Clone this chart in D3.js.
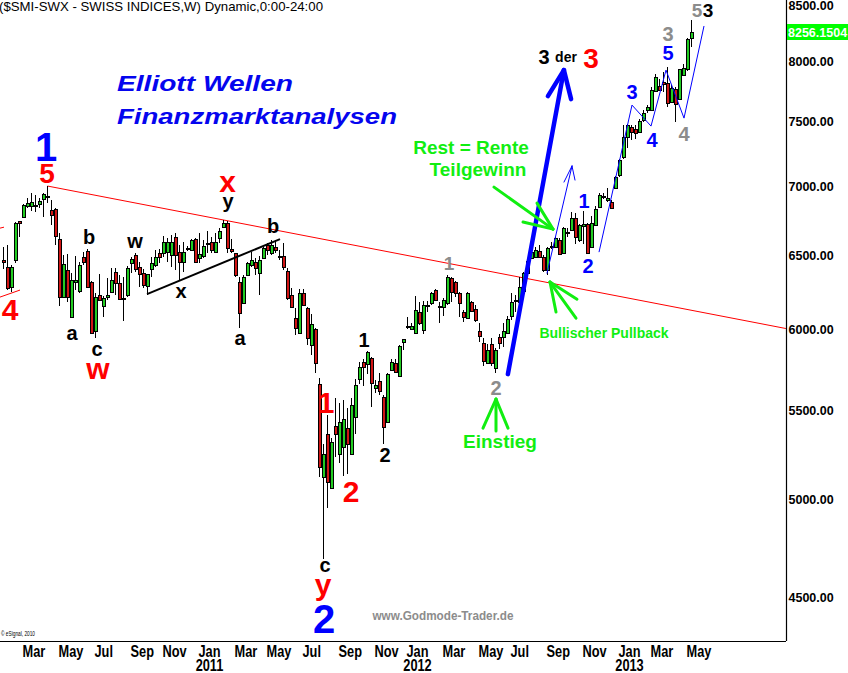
<!DOCTYPE html>
<html><head><meta charset="utf-8">
<script src="https://cdnjs.cloudflare.com/ajax/libs/d3/7.8.5/d3.min.js"></script>
<style>
body{margin:0;background:#fff}
svg{display:block}
text{font-family:"Liberation Sans",Arial,Helvetica,sans-serif}
</style>
</head><body>
<svg id="chart" width="848" height="673"></svg>
<script>
// ---------------- DATA ----------------
const firstWeek = "2010-01-25"; // weekly bars, Monday dated
const open = [6465,6417,6281,6465,6742,6771,6851,6851,6858,6866, 6903,6925,6822,6829,6613,6214,6396,6082,6315,6254,
 6486,6528,6315,5991,6227,6154,6214,6247,6383,6308, 6200,6227,6444,6500,6417,6376,6288,6403,6431,6514,
 6514,6521,6500,6627,6521,6451,6542,6535,6613,6479, 6493,6584,6592,6521,6620,6698,6727,6542,6514,6315,
 6174,6362,6431,6451,6376,6479,6570,6514,6556,6493, 6493,6390,6227,6075,5978,6241,6141,5902,6004,5660,
 5122,5363,5062,5411,5250,5290,5399,5250,5463,5690, 5795,5783,5820,5636,5678,5582,5434,5746,5789,5709,
 5921,6017,6004,5978,6115,5998,6154,6174,6261,6154, 6148,6174,6342,6315,6241,6115,6075,6181,6134,5991,
 5915,5789,5908,5758,5953,5953,5978,6088,6194,6181, 6254,6376,6479,6486,6528,6486,6396,6556,6556,6606,
 6514,6663,6677,6763,6606,6705,6720,6556,6713,6844, 6918,6895,6880,6985,7083,7221,7377,7457,7441,7417,
 7513,7594,7594,7751,7793,7826,7818,7660,7768,7684, 7885,7936,8204];
const high = [6556,6570,6431,6734,6742,6866,6910,6947,6933,6910, 6947,7000,6895,6836,6655,6500,6507,6376,6493,6451,
 6521,6542,6321,6241,6369,6221,6342,6410,6410,6362, 6349,6424,6486,6514,6451,6403,6369,6486,6535,6542,
 6634,6620,6641,6655,6570,6592,6563,6613,6620,6655, 6606,6670,6627,6655,6691,6749,6742,6613,6514,6349,
 6362,6451,6521,6479,6493,6556,6584,6606,6606,6535, 6584,6410,6274,6141,6268,6268,6148,6102,6011,5697,
 5307,5475,5341,5576,5546,5564,5516,5576,5690,5795, 5814,5864,5827,5684,5727,5594,5727,5814,5814,5902,
 5940,6082,6043,6221,6181,6187,6187,6247,6268,6181, 6207,6362,6349,6321,6247,6128,6247,6187,6161,6043,
 5946,5908,5946,5883,5972,6043,6088,6241,6227,6349, 6383,6472,6535,6556,6570,6500,6556,6592,6627,6620,
 6698,6691,6807,6800,6720,6815,6727,6778,6851,6947, 6947,6985,6895,7075,7205,7473,7481,7473,7473,7521,
 7594,7635,7784,7893,7851,7910,7953,7801,7784,7936, 7979,8204,8364];
const low = [6403,6261,6247,6444,6627,6763,6836,6815,6807,6836, 6771,6873,6713,6570,6154,6207,6181,6075,6261,6241,
 6431,6274,5972,5946,6187,6082,6194,6241,6227,6194, 6056,6214,6376,6383,6281,6274,6227,6349,6417,6444,
 6486,6451,6417,6396,6328,6383,6528,6528,6444,6444, 6479,6514,6514,6514,6584,6691,6514,6514,6349,6011,
 6167,6355,6417,6362,6227,6472,6500,6500,6514,6465, 6396,6194,6148,5966,5978,6154,5902,5839,5727,5122,
 4691,4955,5057,5234,5200,5128,5139,5245,5364,5660, 5648,5721,5522,5606,5594,5307,5428,5740,5727,5703,
 5870,6004,5998,5978,6030,5972,6115,6161,6187,6043, 6088,6161,6181,6214,6082,6049,6069,6115,6049,5921,
 5770,5789,5770,5727,5877,5889,5978,6062,6115,6174, 6247,6369,6472,6479,6479,6383,6362,6542,6549,6500,
 6507,6627,6670,6577,6592,6577,6514,6549,6705,6844, 6903,6880,6829,6977,7068,7205,7290,7354,7362,7409,
 7497,7570,7586,7743,7751,7743,7619,7652,7497,7676, 7876,7919,8125];
const close = [6451,6274,6417,6727,6727,6858,6873,6880,6855,6888, 6940,6918,6785,6634,6214,6438,6214,6328,6328,6431,
 6451,6281,5978,6214,6194,6207,6227,6328,6308,6200, 6207,6410,6472,6403,6369,6294,6369,6444,6486,6486,
 6592,6592,6592,6500,6451,6521,6549,6606,6451,6507, 6563,6581,6535,6592,6670,6727,6549,6528,6362,6108,
 6349,6444,6465,6410,6465,6549,6535,6570,6535,6486, 6417,6207,6148,6011,6241,6161,5946,6036,5789,5178,
 5250,5095,5318,5363,5434,5451,5307,5534,5654,5764, 5764,5858,5666,5654,5618,5405,5721,5795,5733,5896,
 5940,6023,6023,6128,6043,6161,6161,6241,6194,6151, 6194,6349,6247,6241,6174,6082,6241,6121,6062,5959,
 5801,5870,5789,5870,5915,5991,6069,6181,6190,6281, 6376,6458,6521,6535,6486,6396,6549,6563,6620,6507,
 6691,6659,6763,6627,6713,6720,6514,6727,6829,6933, 6922,6910,6836,7068,7198,7377,7473,7417,7409,7505,
 7570,7619,7759,7868,7759,7810,7652,7776,7644,7936, 7945,8195,8256.1504];
const lastPrice = 8256.1504;
const yTicks = [4500,5000,5500,6000,6500,7000,7500,8000,8500];
const monthTicks = ["2010-03","2010-05","2010-07","2010-09","2010-11","2011-01","2011-03","2011-05","2011-07",
 "2011-09","2011-11","2012-01","2012-03","2012-05","2012-07","2012-09","2012-11","2013-01","2013-03","2013-05"];
const yearTicks = ["2011-01","2012-01","2013-01"];

// annotations in data space: [week index, price]
const trendRed = [[11,7000],[195.6,6008]];
const redStubs = [[[-0.875,6214],[4.125,6261]],[[-0.875,6691],[0.125,6698]]];
const trendBlack = [[35.875,6234],[69.125,6613]];
const bigArrow = {from:[126.1,5721], to:[140.1,7927], barbs:[[136.1,7709],[141.9,7684]]};
const thinArrow = {from:[135.875,6376], to:[142.125,7152], barbs:[[140.125,7030],[142.875,7045]]};
const zigzag = [[148.875,6521],[157.125,7635],[161.875,7465],[165.625,7927],[170.125,7529],[175.125,8311]];
const greenArrows = [
 {from:[122.625,6992], to:[137.375,6684], barbs:[[133.375,6873],[129.875,6735]]},
 {from:[143.125,6075], to:[136.625,6315], barbs:[[138.125,6115],[143.375,6200]]},
 {from:[123.125,5382], to:[123.125,5570], barbs:[[119.875,5399],[126.125,5399]]}
];
const BLUE="#0000ff", RED="#ff0000", BLACK="#000000", GRAY="#8c8c8c", GREEN="#11ee11";
const waveLabels = [
 ["1",10.625,7190,BLUE,40],["5",10.875,7022,RED,28],["4",1.625,6062,RED,30],
 ["b",21.375,6577,BLACK,20],["a",17.125,5934,BLACK,20],["c",23.375,5832,BLACK,20],["w",23.625,5690,RED,30],
 ["w",32.875,6549,BLACK,20],["x",44.375,6207,BLACK,20],["y",56.125,6836,BLACK,20],["x",56.0,6955,RED,30],
 ["b",67.375,6655,BLACK,20],["a",59.125,5902,BLACK,20],["c",80.375,4625,BLACK,20],["y",79.875,4515,RED,30],
 ["2",80.125,4334,BLUE,40],["1",80.625,5487,RED,30],["2",86.875,4987,RED,30],
 ["1",90.125,5889,BLACK,20],["2",95.375,5206,BLACK,20],["1",111.375,6396,GRAY,19],["2",123.125,5593,GRAY,20],
 ["3",135.125,7979,BLACK,20],["der",140.625,7996,BLACK,14],["3",146.875,7945,RED,28],
 ["1",145.125,6836,BLUE,20],["2",146.125,6376,BLUE,20],["3",157.125,7684,BLUE,20],["4",162.125,7299,BLUE,20],
 ["5",166.125,8013,BLUE,20],["3",166.125,8175,GRAY,20],["4",170.125,7346,GRAY,20],
 ["5",173.375,8392,GRAY,19],["3",176.125,8392,BLACK,19]
];

// ---------------- LAYOUT ----------------
const W = 848, H = 673, plotR = 786, plotB = 641;
const WEEK = 7*864e5;
const t0 = d3.timeParse("%Y-%m-%d")(firstWeek);
const dates = open.map((_, i) => new Date(+t0 + i*WEEK));
const x = d3.scaleTime().domain([new Date(+t0 - 0.875*WEEK), new Date(+t0 + 195.625*WEEK)]).range([0, plotR]);
const y = d3.scaleLog().domain([4297, 8546]).range([plotB, 0]);
const kx = k => x(new Date(+t0 + k*WEEK));
const P = d => [kx(d[0]), y(d[1])];

const svg = d3.select("#chart");
svg.append("rect").attr("width", W).attr("height", H).attr("fill", "#fff");
const defs = svg.append("defs");
defs.append("clipPath").attr("id","plot").append("rect").attr("x",0).attr("y",0).attr("width",plotR).attr("height",plotB);
const plot = svg.append("g").attr("clip-path","url(#plot)");

// trend lines
const line = d3.line();
plot.append("path").attr("d", line(trendRed.map(P))).attr("stroke", RED).attr("stroke-width",1).attr("fill","none");
redStubs.forEach(s => plot.append("path").attr("d", line(s.map(P))).attr("stroke", RED).attr("stroke-width",1).attr("fill","none"));

// candles
const candles = plot.append("g");
dates.forEach((d, i) => {
  const cx = Math.round(x(d) - 0.5) + 0.5;
  const up = close[i] >= open[i];
  candles.append("line").attr("x1",cx).attr("x2",cx).attr("y1",y(high[i])).attr("y2",y(low[i]))
    .attr("stroke","#000").attr("stroke-width",1).attr("shape-rendering","crispEdges");
  const yo = y(open[i]), yc = y(close[i]);
  const top = Math.round(Math.min(yo,yc)), bot = Math.round(Math.max(yo,yc));
  candles.append("rect").attr("x",cx-1.5).attr("y",top).attr("width",4).attr("height",Math.max(bot-top,1)+1)
    .attr("fill","#000").attr("shape-rendering","crispEdges");
  if (bot - top >= 2) {
    candles.append("rect").attr("x",cx-0.5).attr("y",top+1).attr("width",2).attr("height",bot-top-1)
      .attr("fill", up ? "#22cc22" : "#d01515").attr("shape-rendering","crispEdges");
  }
});

plot.append("path").attr("d", line(trendBlack.map(P))).attr("stroke","#000").attr("stroke-width",2).attr("fill","none");

function arrow(a, color, w) {
  const g = plot.append("g").attr("stroke",color).attr("stroke-width",w).attr("fill","none").attr("stroke-linecap","round");
  g.append("path").attr("d", line([a.from, a.to].map(P)));
  a.barbs.forEach(b => g.append("path").attr("d", line([a.to, b].map(P))));
}
arrow(bigArrow, BLUE, 4.5);
arrow(thinArrow, BLUE, 1);
plot.append("path").attr("d", line(zigzag.map(P))).attr("stroke",BLUE).attr("stroke-width",1).attr("fill","none");
greenArrows.forEach(a => arrow(a, GREEN, 3));

// wave labels
svg.append("g").selectAll("text").data(waveLabels).join("text")
  .attr("x", d => kx(d[1])).attr("y", d => y(d[2]))
  .attr("text-anchor","middle").attr("font-weight","bold")
  .attr("font-size", d => d[4]).attr("fill", d => d[3]).text(d => d[0]);

// headline and annotation texts
svg.append("text").attr("x",-1).attr("y",11).attr("font-size",13).attr("textLength",324).attr("lengthAdjust","spacingAndGlyphs")
  .text("($SMI-SWX - SWISS INDICES,W) Dynamic,0:00-24:00");
svg.append("text").attr("x",117).attr("y",91).attr("font-size",22).attr("font-weight","bold").attr("font-style","italic")
  .attr("fill","#0505ee").attr("textLength",176).attr("lengthAdjust","spacingAndGlyphs").text("Elliott Wellen");
svg.append("text").attr("x",117).attr("y",124).attr("font-size",22).attr("font-weight","bold").attr("font-style","italic")
  .attr("fill","#0505ee").attr("textLength",280).attr("lengthAdjust","spacingAndGlyphs").text("Finanzmarktanalysen");
const notes = [["Rest = Rente",471,154,19],["Teilgewinn",478,176,19],["Einstieg",500,448,19],["Bullischer Pullback",604,338,14]];
svg.append("g").selectAll("text").data(notes).join("text")
  .attr("x",d=>d[1]).attr("y",d=>d[2]).attr("font-size",d=>d[3]).attr("font-weight","bold")
  .attr("text-anchor","middle").attr("fill",GREEN).text(d=>d[0]);
svg.append("text").attr("x",443).attr("y",620).attr("font-size",12).attr("font-weight","bold").attr("fill",GRAY)
  .attr("text-anchor","middle").attr("textLength",141).attr("lengthAdjust","spacingAndGlyphs").text("www.Godmode-Trader.de");
svg.append("text").attr("x",1).attr("y",636).attr("font-size",7.5).attr("textLength",34).attr("lengthAdjust","spacingAndGlyphs")
  .text("© eSignal, 2010");

// axes
const yAxis = d3.axisRight(y).tickValues(yTicks).tickFormat(d3.format(".2f")).tickSize(0).tickSizeOuter(0).tickPadding(2);
const ya = svg.append("g").attr("transform",`translate(${plotR+0.5},0)`).call(yAxis);
ya.select(".domain").attr("stroke","#000").attr("stroke-width",1.2).attr("d",`M0,0V${plotB}`);
ya.selectAll("text").attr("font-family","Liberation Sans, Arial").attr("font-size",12.5).attr("font-weight","bold").attr("fill","#000");

const xAxis = d3.axisBottom(x).tickValues([]).tickSizeOuter(0);
const xa = svg.append("g").attr("transform",`translate(0,${plotB+0.5})`).call(xAxis);
xa.select(".domain").attr("stroke","#000").attr("stroke-width",1.2).attr("d",`M0,0H${plotR}`);

const pm = d3.timeParse("%Y-%m");
const monthPos = s => x(d3.timeMonday.ceil(pm(s))) - 1;
svg.append("g").selectAll("text").data(monthTicks).join("text")
  .attr("transform", d => `translate(${monthPos(d)},657) scale(0.8,1)`)
  .attr("font-size",16).attr("font-weight","bold").text(d => d3.timeFormat("%b")(pm(d)));
svg.append("g").selectAll("text").data(yearTicks).join("text")
  .attr("transform", d => `translate(${monthPos(d)+11},671) scale(0.8,1)`)
  .attr("text-anchor","middle").attr("font-size",16).attr("font-weight","bold").text(d => d3.timeFormat("%Y")(pm(d)));

// last price box
const yl = y(lastPrice);
svg.append("rect").attr("x",plotR+1).attr("y",Math.round(yl)-8).attr("width",W-plotR-1).attr("height",16).attr("fill","#00ff00");
svg.append("text").attr("x",plotR+2).attr("y",yl+4.5).attr("font-size",12.5).attr("font-weight","bold").attr("fill","#fff")
  .text(d3.format(".4f")(lastPrice));
</script>
</body></html>
